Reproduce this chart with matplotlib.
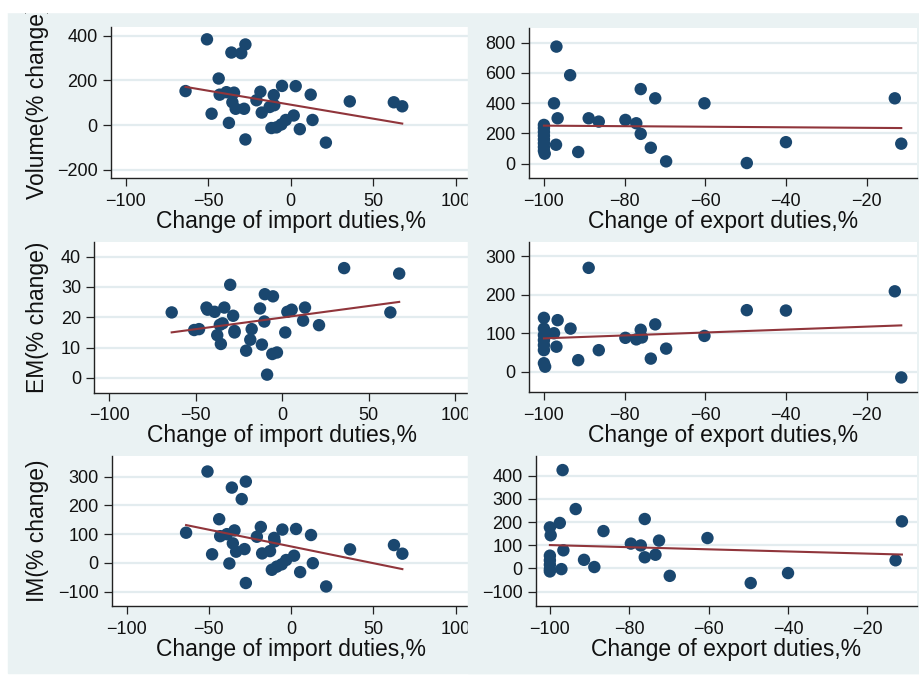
import numpy as np
import matplotlib
matplotlib.use("Agg")
import matplotlib.pyplot as plt
from matplotlib.patches import Rectangle

plt.rcParams['font.family'] = ['Liberation Sans', 'DejaVu Sans']

# change of import duties (same countries in the three left panels)
imp_chg = [-63.8, -50.8, -48.0, -43.7, -43.1, -39.0, -36.0, -37.5, -35.4, -34.4,
           -33.4, -30.0, -28.3, -27.5, -27.5, -20.8, -18.4, -17.6, -12.8, -11.7,
           -10.3, -10.0, -8.7, -5.7, -5.3, -3.0, 1.8, 3.0, 5.5, 12.1,
           13.2, 21.3, 35.8, 62.5, 67.6]
vol_imp = [152, 383, 51, 208, 136, 147, 324, 10, 102, 145,
           73, 321, 73, 360, -64, 111, 149, 56, 81, -13,
           134, 89, -10, 3, 175, 23, 43, 174, -18, 136,
           23, -78, 106, 102, 84]
em_imp = [21.6, 15.8, 16.1, 23.2, 22.5, 21.8, 17.5, 14.1, 11.2, 18.0,
          23.2, 30.7, 20.5, 15.0, 15.5, 9.0, 12.6, 16.1, 22.9, 11.0,
          18.6, 27.6, 1.1, 7.9, 26.9, 8.4, 15.0, 21.8, 22.5, 18.9,
          23.2, 17.4, 36.2, 21.6, 34.4]
im_imp = [105, 318, 30, 152, 93, 100, 262, -2, 68, 113,
          39, 222, 48, 283, -70, 91, 125, 33, 41, -24,
          87, 75, -13, -5, 116, 10, 25, 118, -32, 97,
          -1, -82, 47, 62, 32]

# change of export duties
exp_chg_vol = [-100, -100, -100, -100, -100, -100, -100, -100, -99.8,
               -96.9, -93.5, -97.5, -96.6, -97.0, -91.5, -88.9, -86.4, -79.8, -77.1,
               -76.0, -76.0, -72.4, -73.5, -69.7, -60.2, -49.7, -40.0, -13.0, -11.4]
vol_exp = [256, 235, 210, 185, 160, 135, 110, 85, 66,
           774, 585, 399, 300, 125, 77, 300, 278, 289, 267,
           493, 197, 432, 105, 15, 399, 4, 142, 432, 132]

exp_chg_em = [-100, -100, -100, -100, -100, -100, -100, -99.7, -97.5, -96.6,
              -96.9, -93.4, -91.5, -88.9, -86.4, -79.8, -77.1, -75.7, -76.0, -73.5,
              -72.4, -69.7, -60.2, -49.7, -40.0, -13.0, -11.4]
em_exp = [140, 112, 95, 82, 69, 56, 22, 13, 100, 134,
          65, 112, 30, 270, 56, 88, 84, 89, 109, 34,
          123, 60, 93, 160, 159, 209, -15]

exp_chg_im = [-100, -99.8, -100, -100, -100, -100, -100, -96.8, -93.5, -97.5,
              -86.5, -76.1, -79.6, -77.1, -72.5, -76.1, -73.4, -69.8, -60.3, -49.4,
              -40.0, -11.3, -12.9, -96.6, -97.1, -91.4, -88.8]
im_exp = [177, 143, 55, 35, 16, -3, -13, 424, 256, 196,
          161, 213, 107, 99, 120, 48, 59, -32, 131, -63,
          -20, 203, 35, 78, -3, 37, 6]

W, H = 919, 677
bg = '#eaf2f3'
navy = '#1a476f'
maroon = '#90353b'

fig = plt.figure(figsize=(W / 100, H / 100), dpi=100)
fig.patch.set_facecolor('white')


def px_rect(l, t, r, b):
    return [l / W, 1 - b / H, (r - l) / W, (b - t) / H]


# graph region
fig.patches.append(Rectangle((8 / W, 1 - 673 / H), (W - 8) / W, (673 - 12) / H,
                             transform=fig.transFigure, color=bg, zorder=-1))
# right column region sits over the left panels
fig.patches.append(Rectangle((468 / W, 1 - 673 / H), (W - 468) / W, (673 - 12) / H,
                             transform=fig.transFigure, color=bg, zorder=0.5))
# top margin
fig.patches.append(Rectangle((0, 1 - 12 / H), 1, 12 / H,
                             transform=fig.transFigure, color='white', zorder=10))


def panel(rect, x, y, xlim, ylim, xticks, yticks, xlabel, ylabel=None, z=0):
    l, t, r, b = rect
    ax = fig.add_axes(px_rect(l, t, r, b), zorder=z)
    ax.set_facecolor('white')
    ax.scatter(x, y, s=80, color=navy, edgecolors='none', zorder=2)
    x = np.asarray(x, float)
    y = np.asarray(y, float)
    k, c = np.polyfit(x, y, 1)
    xs = np.array([x.min(), x.max()])
    ax.plot(xs, k * xs + c, color=maroon, lw=1.5, zorder=3)
    ax.set_xlim(xlim)
    ax.set_ylim(ylim)
    ax.set_xticks(xticks)
    ax.set_yticks(yticks)
    ax.yaxis.grid(True, color='#e3ecef', lw=1.6)
    ax.set_axisbelow(True)
    for s in ['top', 'right']:
        ax.spines[s].set_visible(False)
    for s in ['left', 'bottom']:
        ax.spines[s].set_color('#222222')
        ax.spines[s].set_linewidth(1.0)
    ax.tick_params(direction='out', length=5.5, width=0.9, color='#222222',
                   labelsize=13, labelcolor='#111111')
    ax.tick_params(axis='x', pad=5)
    ax.tick_params(axis='y', pad=4)
    ax.set_xlabel(xlabel, fontsize=16.5, labelpad=0, color='#111111')
    if ylabel:
        ax.set_ylabel(ylabel, fontsize=16.5, color='#111111')
        ax.yaxis.set_label_coords((49 - l) / (r - l), 0.5)
    return ax


imp_ticks = [-100, -50, 0, 50, 100]
exp_ticks = [-100, -80, -60, -40, -20]
imp_lab = 'Change of import duties,%'
exp_lab = 'Change of export duties,%'

panel((111, 27, 470.5, 178), imp_chg, vol_imp, (-109, 109), (-236, 438),
      imp_ticks, [-200, 0, 200, 400], imp_lab, 'Volume(% change)')
panel((529, 28, 917, 178), exp_chg_vol, vol_exp, (-103.7, -7.5), (-95, 897),
      exp_ticks, [0, 200, 400, 600, 800], exp_lab, z=1)
panel((94.3, 241.7, 470, 392.7), imp_chg, em_imp, (-108.5, 108.5), (-4.85, 44.9),
      imp_ticks, [0, 10, 20, 30, 40], imp_lab, 'EM(% change)')
panel((529, 241.7, 917, 392.3), exp_chg_em, em_exp, (-103.7, -7.5), (-53.6, 338),
      exp_ticks, [0, 100, 200, 300], exp_lab, z=1)
panel((111.7, 455.7, 470.5, 606), imp_chg, im_imp, (-109, 109), (-150, 373),
      imp_ticks, [-100, 0, 100, 200, 300], imp_lab, 'IM(% change)')
panel((536, 455.7, 917, 606), exp_chg_im, im_exp, (-103.5, -7.5), (-162, 486),
      exp_ticks, [-100, 0, 100, 200, 300, 400], exp_lab, z=1)

fig.savefig('out.png', dpi=100, facecolor='white')
